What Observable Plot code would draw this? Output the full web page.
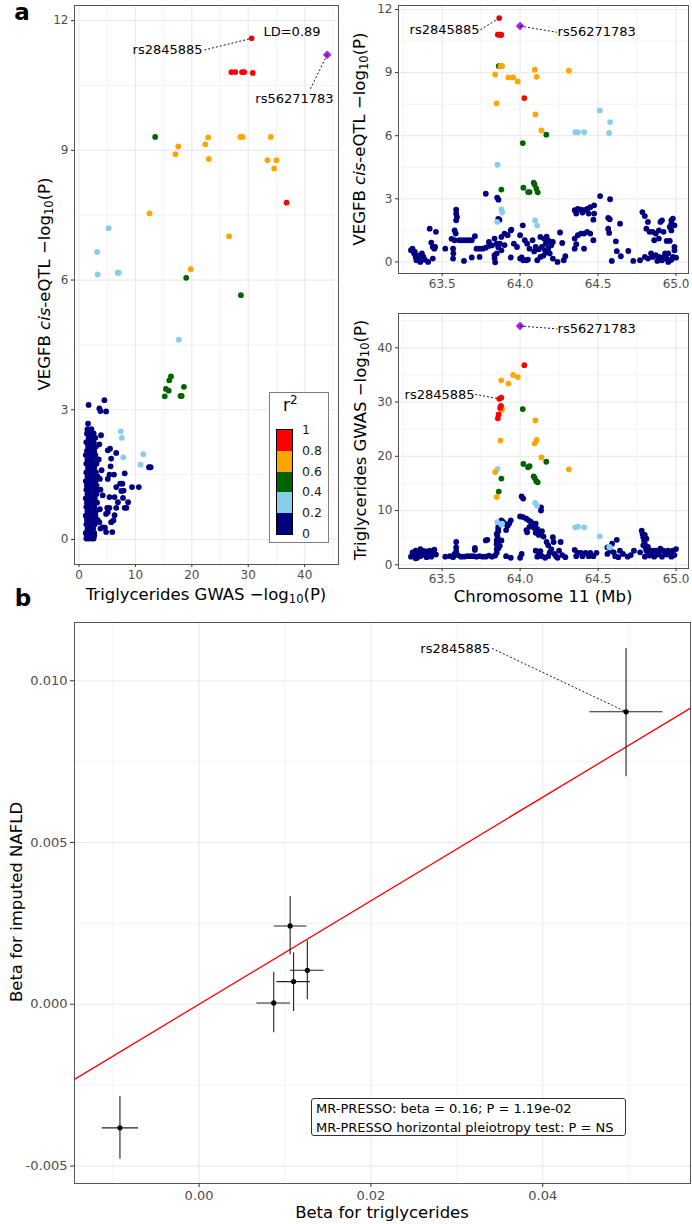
<!DOCTYPE html>
<html><head><meta charset="utf-8">
<script src="https://cdn.jsdelivr.net/npm/d3@7"></script>
<script src="https://cdn.jsdelivr.net/npm/@observablehq/plot@0.6"></script>
<style>
body{margin:0;background:#fff;font-family:"DejaVu Sans",sans-serif;}
#root{position:relative;width:692px;height:1224px;overflow:hidden;background:#fff;}
.lbl{position:absolute;white-space:nowrap;font-size:16.5px;color:#000;transform:translate(-50%,-50%);line-height:1;}
.rot{transform:translate(-50%,-50%) rotate(-90deg);}
.tag{position:absolute;font-weight:bold;font-size:23px;transform:translate(-50%,-50%);line-height:1;}
sub{font-size:0.7em;vertical-align:-0.3em;line-height:0;}
sup{font-size:0.7em;vertical-align:0.55em;line-height:0;}
</style></head><body><div id="root"></div>
<script>
// ---------- DATA ----------
const r2Breaks = ["1","0.8","0.6","0.4","0.2","0"];
const r2Colors = ["#FF0000","#FFA500","#006400","#87CEEB","#000080"];
const leadColor = "#A020F0";

// coloured SNPs: [position (Mb), VEGFB eQTL -log10P, TG GWAS -log10P]
const redSnps = [[63.866,11.59,30.6],[63.857,10.81,27.0],[63.862,10.81,27.7],[63.872,10.81,28.9],[63.877,10.81,29.3],[63.879,10.79,30.8],[64.027,7.79,36.8]];
const orangeSnps = [[63.840,8.91,17.1],[63.850,7.54,12.5],[63.879,9.31,34.0],[63.925,8.77,33.4],[63.955,8.77,35.0],[63.985,8.58,34.6],[63.880,9.31,29.0],[63.884,9.31,28.6],[64.098,7.01,26.6],[63.874,9.30,22.9],[64.106,8.80,23.0],[64.094,9.14,22.4],[64.137,6.25,19.8],[64.313,9.09,17.6]];
const greenSnps = [[63.863,9.31,13.5],[64.168,6.05,19.0],[64.017,5.65,28.7],[63.880,3.44,15.9],[64.021,3.53,18.6],[64.051,3.32,18.0],[64.061,3.32,18.2],[64.087,3.77,16.3],[64.093,3.68,16.0],[64.104,3.48,15.4],[64.113,3.31,15.2]];
const skySnps = [[63.855,4.62,17.7],[63.880,2.50,7.4],[63.885,2.35,7.6],[63.853,1.90,7.85],[64.096,1.97,11.4],[64.109,1.73,10.9],[64.511,7.20,5.25],[64.577,6.65,3.2],[64.571,6.13,3.3],[64.354,6.17,6.9],[64.371,6.17,7.05],[64.411,6.17,6.9]];
const leadSnp = [[64.000,11.21,44.0]];

// low-LD (navy) SNPs per panel
const navyLeft = [ // [TG GWAS, eQTL]
[1.6,2.68],[1.5,2.55],[2.2,2.55],[1.4,2.45],[1.9,2.45],[2.6,2.45],[1.7,2.35],[2.3,2.35],[2.9,2.35],
[1.3,2.25],[2.0,2.25],[2.6,2.25],[1.6,2.15],[2.4,2.15],[3.0,2.15],[1.4,2.05],[1.9,2.05],[2.7,2.05],
[1.2,1.95],[1.7,1.95],[2.2,1.95],[2.9,1.95],[1.5,1.85],[2.0,1.85],[2.5,1.85],
[1.3,1.75],[1.8,1.75],[2.4,1.75],[3.1,1.75],[1.6,1.65],[2.1,1.65],[2.7,1.65],
[1.3,1.55],[1.9,1.55],[2.4,1.55],[3.0,1.55],[1.5,1.45],[2.0,1.45],[2.6,1.45],[3.3,1.45],
[1.2,1.35],[1.7,1.35],[2.2,1.35],[2.9,1.35],[1.4,1.25],[1.9,1.25],[2.5,1.25],[3.1,1.25],
[1.3,1.15],[1.8,1.15],[2.3,1.15],[2.8,1.15],[3.4,1.15],[1.5,1.05],[2.0,1.05],[2.6,1.05],[3.1,1.05],
[1.2,0.95],[1.7,0.95],[2.2,0.95],[2.8,0.95],[1.4,0.85],[1.9,0.85],[2.5,0.85],[3.2,0.85],
[1.3,0.75],[1.6,0.75],[2.1,0.75],[2.7,0.75],[1.5,0.65],[2.0,0.65],[2.4,0.65],[3.0,0.65],
[1.2,0.55],[1.8,0.55],[2.3,0.55],[2.9,0.55],[1.4,0.45],[1.9,0.45],[2.6,0.45],[3.3,0.45],
[1.3,0.35],[1.7,0.35],[2.2,0.35],[2.8,0.35],[1.5,0.25],[2.0,0.25],[2.5,0.25],
[1.2,0.15],[1.6,0.15],[2.1,0.15],[2.7,0.15],[1.4,0.08],[1.9,0.08],[2.4,0.08],
[1.3,0.02],[1.7,0.02],[2.2,0.02],[2.6,0.02],
[1.7,3.11],[4.5,3.22],[3.6,3.03],[3.8,2.97],[4.8,2.96],[3.9,2.41],[5.1,2.06],[5.5,2.10],[6.6,2.00],
[5.7,1.87],[5.6,1.69],[5.4,1.50],[6.2,1.50],[5.1,1.40],[3.7,1.40],[8.1,1.53],[12.4,1.67],[12.7,1.67],
[7.3,1.29],[7.7,1.29],[6.6,1.21],[7.9,1.13],[7.5,1.12],[9.4,1.21],[10.6,1.21],[3.8,1.15],[4.2,1.02],
[6.3,0.98],[5.4,0.98],[6.9,0.86],[8.7,0.86],[7.8,0.96],[5.4,0.73],[6.6,0.73],[8.1,0.73],[8.4,0.73],
[5.0,0.73],[5.1,0.63],[6.3,0.56],[5.7,0.40],[4.8,0.59],[6.1,0.44],[4.2,0.28],[4.8,0.17],[5.9,0.17],
[4.6,0.27],[3.6,0.40],[3.8,0.25],[2.7,0.09],[3.5,1.85],[3.6,2.2],[4.0,1.6],[3.7,0.7]
];
const navyTop = [ // [position, eQTL]
[63.30,0.56],[63.31,0.63],[63.32,0.40],[63.33,0.24],[63.335,0.08],[63.345,0.15],[63.36,0.0],[63.37,0.40],[63.38,0.24],[63.325,0.48],[63.35,0.30],[63.39,0.10],
[63.42,1.58],[63.46,1.43],[63.44,0.71],[63.45,0.63],[63.43,0.92],[63.455,0.71],[63.41,0.0],[63.44,0.16],[63.52,0.63],
[63.59,2.48],[63.59,2.30],[63.595,2.14],[63.59,1.98],[63.58,1.50],[63.587,1.35],[63.58,1.03],[63.57,0.63],[63.572,0.40],[63.57,0.16],[63.56,1.10],
[63.61,1.03],[63.63,1.03],[63.65,1.03],[63.67,1.03],[63.69,1.03],[63.71,1.22],[63.64,0.05],[63.69,0.21],[63.74,0.24],
[63.72,0.63],[63.74,0.63],[63.76,0.63],[63.78,0.68],[63.80,0.76],[63.82,0.79],[63.85,0.87],
[63.78,3.24],[63.853,3.06],[63.861,2.96],[63.86,2.05],[63.868,2.0],
[63.80,0.95],[63.836,1.11],[63.88,1.19],[63.90,1.35],[63.92,1.27],[63.94,1.50],[63.944,1.54],
[63.836,0.32],[63.836,0.17],[63.86,0.70],[63.88,0.55],[63.90,0.80],[63.85,0.40],[63.84,-0.02],[63.87,0.87],
[63.94,0.21],[63.96,0.87],[63.98,0.71],
[64.0,0.16],[64.02,0.08],[64.04,0.08],[64.017,1.74],[64.0,1.27],[64.03,1.03],[64.045,0.87],[64.06,0.63],[64.08,1.03],[64.10,0.71],[64.11,0.08],[64.01,0.21],[64.05,0.11],
[64.13,0.24],[64.14,0.71],[64.155,1.10],[64.165,0.87],[64.18,0.63],[64.19,0.40],[64.20,0.79],[64.21,0.95],[64.21,0.16],[64.13,1.19],[64.16,0.55],[64.17,1.20],[64.185,1.0],[64.15,0.30],[64.17,0.45],[64.12,0.60],[64.09,0.50],
[64.256,1.40],[64.27,0.90],[64.29,0.27],[64.28,0.08],[64.24,0.0],
[64.35,2.46],[64.37,2.52],[64.39,2.48],[64.41,2.46],[64.43,2.52],[64.45,2.60],[64.475,2.69],[64.475,2.30],[64.36,2.30],[64.44,2.30],[64.40,2.35],[64.47,2.01],
[64.35,1.11],[64.37,1.27],[64.39,1.35],[64.41,1.35],[64.43,1.43],[64.45,1.35],[64.47,1.03],[64.36,0.84],[64.35,0.63],[64.41,0.63],
[64.513,3.13],[64.577,2.98],[64.565,2.09],[64.575,2.03],[64.565,1.58],[64.571,1.38],[64.614,0.98],[64.62,0.51],[64.641,1.82],
[64.646,0.27],[64.588,0.05],[64.694,0.52],[64.726,0.05],[64.769,0.08],
[64.784,2.37],[64.80,2.18],[64.82,1.90],[64.81,1.58],[64.83,1.43],[64.85,1.43],[64.87,1.35],[64.89,1.50],[64.90,1.90],[64.91,1.98],[64.92,1.43],[64.89,1.11],[64.86,1.03],
[64.80,0.24],[64.82,0.16],[64.84,0.40],[64.85,0.24],[64.87,0.32],[64.89,0.24],[64.91,0.08],[64.92,0.24],[64.94,0.16],[64.96,0.08],[64.98,0.24],[64.95,0.0],[64.97,0.10],[65.0,0.20],[64.88,0.05],[64.93,0.40],
[64.97,1.98],[64.98,2.06],[64.97,1.82],[64.96,1.66],[64.97,1.50],[64.99,1.74],[64.99,0.71],[64.99,0.55],[64.95,0.40],[64.94,1.0],[64.96,1.0]
];
const navyBottom = [ // [position, TG GWAS]
[63.30,1.5],[63.31,2.3],[63.32,1.8],[63.33,2.6],[63.34,1.3],[63.35,2.2],[63.36,1.6],[63.37,2.6],[63.38,1.9],[63.39,2.5],[63.40,1.4],[63.33,1.2],[63.36,2.9],
[63.41,2.0],[63.42,2.6],[63.43,1.5],[63.44,2.4],[63.45,2.8],[63.46,1.9],
[63.52,1.5],[63.55,1.6],[63.57,1.4],[63.58,2.0],[63.59,4.2],[63.59,3.2],[63.59,2.5],[63.60,1.8],[63.62,1.5],[63.64,1.5],[63.66,1.6],[63.68,1.6],[63.70,1.6],[63.71,2.75],[63.71,3.1],
[63.72,1.5],[63.74,1.6],[63.76,1.5],[63.78,1.5],[63.78,4.5],[63.80,1.7],[63.82,1.5],[63.84,1.7],[63.85,2.2],[63.79,4.6],[63.85,3.9],
[63.85,2.9],[63.85,3.8],[63.85,4.5],[63.855,5.2],[63.85,5.7],[63.86,6.2],[63.86,6.6],[63.86,7.0],[63.87,7.6],[63.88,8.2],[63.89,7.9],[63.90,7.6],[63.92,7.2],[63.93,7.6],[63.94,8.2],[63.91,6.4],[63.88,4.5],[63.87,3.5],[63.86,3.0],
[63.94,1.3],[63.91,1.6],[64.0,1.3],[64.01,2.0],[64.01,12.6],[64.02,12.2],
[64.0,8.9],[64.02,8.8],[64.04,8.5],[64.055,8.2],[64.07,7.9],[64.08,7.3],[64.10,7.6],[64.11,6.6],[64.134,10.6],[64.134,10.0],[64.045,6.0],[64.04,6.4],[64.13,5.7],[64.14,6.2],[64.12,5.5],[64.15,5.2],[64.10,5.9],[64.06,7.0],[64.09,6.8],
[64.17,4.2],[64.18,3.6],[64.20,2.9],[64.21,5.1],[64.215,4.2],[64.25,2.6],[64.26,4.2],[64.22,2.0],[64.29,1.4],[64.18,1.6],[64.14,1.6],[64.16,1.3],[64.12,2.0],[64.10,2.6],[64.11,1.5],[64.13,2.5],[64.19,2.3],[64.23,1.6],[64.24,1.3],[64.27,1.8],
[64.35,2.75],[64.37,2.2],[64.39,2.2],[64.42,2.2],[64.45,2.2],[64.49,2.2],[64.36,1.6],[64.40,1.6],[64.44,1.6],[64.47,1.6],
[64.62,4.6],[64.59,3.9],[64.56,3.2],[64.58,2.6],[64.60,2.3],[64.64,2.6],[64.66,2.0],[64.69,1.5],[64.73,2.6],[64.56,2.0],[64.61,1.6],[64.63,1.4],[64.71,1.8],
[64.78,6.3],[64.785,5.7],[64.79,5.1],[64.795,4.5],[64.80,3.9],[64.805,3.2],[64.81,2.6],[64.82,2.3],[64.83,2.6],[64.85,2.6],[64.87,2.6],[64.89,2.3],[64.92,2.6],[64.95,2.6],[64.98,2.6],[65.0,2.9],
[64.77,2.3],[64.80,1.5],[64.83,1.7],[64.86,1.5],[64.88,1.9],[64.91,1.5],[64.94,1.9],[64.97,1.5],[64.99,1.8],[64.80,5.5],[64.81,4.8],[64.79,3.6],[64.82,3.3],[64.84,2.0],[64.90,3.0],[64.93,2.2],[64.96,2.0]
];

// panel b: MR instruments
const betaTG      = [-0.00921, 0.00869, 0.0106, 0.0110, 0.0126, 0.0497];
const betaTGlo    = [-0.01127, 0.00673, 0.00874, 0.00905, 0.01064, 0.0455];
const betaTGhi    = [-0.00705, 0.01064, 0.01255, 0.01296, 0.01455, 0.0540];
const betaNAFLD   = [-0.00382, 0.00004, 0.00242, 0.0007, 0.00105, 0.00904];
const betaNAFLDlo = [-0.00479, -0.00088, 0.00153, -0.00022, 0.00014, 0.00703];
const betaNAFLDhi = [-0.00285, 0.00099, 0.00333, 0.00159, 0.00196, 0.0110];
const mrBeta = 0.16;
const mrText = ["MR-PRESSO: beta = 0.16; P = 1.19e-02", "MR-PRESSO horizontal pleiotropy test: P = NS"];

// ---------- BUILD ----------
const root = document.getElementById("root");
const toRows = (arr) => arr.map(d => ({pos:d[0], eqtl:d[1], gwas:d[2]}));
const classes = [
  {rows: toRows(skySnps), color: r2Colors[3]},
  {rows: toRows(greenSnps), color: r2Colors[2]},
  {rows: toRows(orangeSnps), color: r2Colors[1]},
  {rows: toRows(redSnps), color: r2Colors[0]}
];
const lead = toRows(leadSnp);
const R = 2.9;

function snpMarks(navy, xk, yk) {
  const m = [Plot.dot(navy, {x: d => d[0], y: d => d[1], r: R, fill: r2Colors[4]})];
  for (const c of classes) m.push(Plot.dot(c.rows, {x: xk, y: yk, r: R, fill: c.color}));
  m.push(Plot.dot(lead, {x: xk, y: yk, r: 3.6, symbol: "diamond2", fill: leadColor, stroke: leadColor, strokeWidth: 0.6}));
  return m;
}
const dotted = (rows) => Plot.link(rows, {x1:"x1", y1:"y1", x2:"x2", y2:"y2", stroke:"#000", strokeWidth:0.9, strokeDasharray:"2,2"});
const label = (rows, anchor, fs=13) => Plot.text(rows, {x:"x", y:"y", text:"t", textAnchor: anchor, fontSize: fs, fill:"#000"});

function basePlot(o) {
  return Plot.plot({
    width:o.w, height:o.h, marginTop:o.mt, marginRight:o.mr, marginBottom:o.mb, marginLeft:o.ml,
    x:{domain:o.xd}, y:{domain:o.yd},
    style:{fontFamily:"'DejaVu Sans', sans-serif", fontSize:o.fs+"px", background:"transparent", overflow:"visible"},
    marks:[
      Plot.gridX(o.xm,{stroke:"#ebebeb",strokeOpacity:1,strokeWidth:0.6}),
      Plot.gridY(o.ym,{stroke:"#ebebeb",strokeOpacity:1,strokeWidth:0.6}),
      Plot.gridX(o.xt,{stroke:"#ebebeb",strokeOpacity:1,strokeWidth:1.2}),
      Plot.gridY(o.yt,{stroke:"#ebebeb",strokeOpacity:1,strokeWidth:1.2}),
      ...o.marks,
      Plot.frame({stroke:"#555",strokeWidth:1}),
      Plot.axisX(o.xt,{tickSize:o.ts||3,tickPadding:3,tickFormat:o.xf,label:null,fill:"#4d4d4d",stroke:"#333"}),
      Plot.axisY(o.yt,{tickSize:o.ts||3,tickPadding:3,tickFormat:o.yf,label:null,fill:"#4d4d4d",stroke:"#333"})
    ]
  });
}
function place(node, left, top) {
  node.style.position = "absolute"; node.style.left = left + "px"; node.style.top = top + "px";
  root.appendChild(node);
}
function html(cls, inner, x, y) {
  const d = document.createElement("div"); d.className = cls; d.innerHTML = inner;
  d.style.left = x + "px"; d.style.top = y + "px"; root.appendChild(d); return d;
}
const intF = d => String(d);
const f1 = d => d.toFixed(1);

// Panel a, left: GWAS vs eQTL
const left = basePlot({
  w:345, h:600, mt:5, mr:7, mb:36, ml:74, fs:12,
  xd:[-0.8,46.0], yd:[-0.58,12.35],
  xt:[0,10,20,30,40], xm:[5,15,25,35,45], yt:[0,3,6,9,12], ym:[1.5,4.5,7.5,10.5],
  xf:intF, yf:intF,
  marks:[
    ...snpMarks(navyLeft, "gwas", "eqtl"),
    dotted([{x1:22.2,y1:11.32,x2:30.6,y2:11.59},{x1:44.0,y1:11.21,x2:41.0,y2:10.42}]),
    label([{x:21.9,y:11.32,t:"rs2845885"}], "end"),
    label([{x:32.7,y:11.74,t:"LD=0.89"}], "start"),
    label([{x:38.2,y:10.19,t:"rs56271783"}], "middle")
  ]
});
place(left, 0, 0);

// Panel a, top right: position vs eQTL
const tr = basePlot({
  w:347, h:300, mt:5, mr:4, mb:27, ml:53, fs:12,
  xd:[63.22,65.08], yd:[-0.55,12.19],
  xt:[63.5,64.0,64.5,65.0], xm:[63.25,63.75,64.25,64.75], yt:[0,3,6,9,12], ym:[1.5,4.5,7.5,10.5],
  xf:f1, yf:intF,
  marks:[
    ...snpMarks(navyTop, "pos", "eqtl"),
    dotted([{x1:63.745,y1:11.04,x2:63.866,y2:11.59},{x1:64.0,y1:11.21,x2:64.236,y2:10.92}]),
    label([{x:63.740,y:11.04,t:"rs2845885"}], "end"),
    label([{x:64.240,y:10.92,t:"rs56271783"}], "start")
  ]
});
place(tr, 345, 0);

// Panel a, bottom right: position vs GWAS
const br = basePlot({
  w:347, h:310, mt:13, mr:4, mb:42, ml:53, fs:12,
  xd:[63.22,65.08], yd:[-0.68,46.32],
  xt:[63.5,64.0,64.5,65.0], xm:[63.25,63.75,64.25,64.75], yt:[0,10,20,30,40], ym:[5,15,25,35,45],
  xf:f1, yf:intF,
  marks:[
    ...snpMarks(navyBottom, "pos", "gwas"),
    dotted([{x1:64.0,y1:44.0,x2:64.236,y2:43.5},{x1:63.712,y1:31.4,x2:63.866,y2:30.6}]),
    label([{x:64.240,y:43.5,t:"rs56271783"}], "start"),
    label([{x:63.708,y:31.4,t:"rs2845885"}], "end")
  ]
});
place(br, 345, 300);

// Panel b
const mrRows = betaTG.map((x,i) => ({x, xlo:betaTGlo[i], xhi:betaTGhi[i], y:betaNAFLD[i], ylo:betaNAFLDlo[i], yhi:betaNAFLDhi[i]}));
const bxd = [-0.0145, 0.0572];
const lineRows = bxd.map(x => ({x, y: mrBeta * x}));
const pb = basePlot({
  w:692, h:614, mt:12, mr:2, mb:41, ml:74, fs:13, ts:4,
  xd:bxd, yd:[-0.00554,0.0118],
  xt:[0,0.02,0.04], xm:[-0.01,0.01,0.03,0.05], yt:[-0.005,0,0.005,0.010], ym:[-0.0025,0.0025,0.0075],
  xf:d => d.toFixed(2), yf:d => d.toFixed(3),
  marks:[
    Plot.line(lineRows, {x:"x", y:"y", stroke:"#FF0000", strokeWidth:1.3}),
    Plot.ruleY(mrRows, {y:"y", x1:"xlo", x2:"xhi", stroke:"#222", strokeWidth:1.1}),
    Plot.ruleX(mrRows, {x:"x", y1:"ylo", y2:"yhi", stroke:"#222", strokeWidth:1.1}),
    Plot.dot(mrRows, {x:"x", y:"y", r:2.6, fill:"#000"}),
    dotted([{x1:0.0341,y1:0.0110,x2:0.0497,y2:0.00904}]),
    label([{x:0.0339,y:0.0110,t:"rs2845885"}], "end")
  ]
});
place(pb, 0, 610);

// ---------- HTML text & legend ----------
html("tag", "a", 22, 12);
html("tag", "b", 23, 598);
html("lbl rot", "VEGFB <i>cis</i>-eQTL −log<sub>10</sub>(P)", 45, 284);
html("lbl", "Triglycerides GWAS  −log<sub>10</sub>(P)", 206, 595);
html("lbl rot", "VEGFB <i>cis</i>-eQTL −log<sub>10</sub>(P)", 360, 139);
html("lbl rot", "Triglycerides GWAS  −log<sub>10</sub>(P)", 361, 440);
html("lbl", "Chromosome 11 (Mb)", 543, 597);
html("lbl rot", "Beta for imputed NAFLD", 17, 902);
html("lbl", "Beta for triglycerides", 382, 1213);

// legend
const lg = document.createElement("div");
lg.style.cssText = "position:absolute;left:269px;top:392px;width:58px;height:149px;border:1px solid #7f7f7f;background:#fff;";
root.appendChild(lg);
const lt = document.createElement("div");
lt.innerHTML = "r<sup>2</sup>";
lt.style.cssText = "position:absolute;left:13px;top:4px;font-size:17px;line-height:1;";
lg.appendChild(lt);
const bar = document.createElement("div");
bar.style.cssText = "position:absolute;left:6px;top:36px;width:17px;height:106px;border:1px solid #000;box-sizing:border-box;";
lg.appendChild(bar);
r2Colors.forEach((c,i) => {
  const b = document.createElement("div");
  b.style.cssText = `position:absolute;left:0;right:0;top:${i*20.8}px;height:20.8px;background:${c};`;
  bar.appendChild(b);
});
r2Breaks.forEach((t,i) => {
  const s = document.createElement("div");
  s.textContent = t;
  s.style.cssText = `position:absolute;left:32px;top:${37 + i*20.8}px;transform:translateY(-50%);font-size:12.5px;line-height:1;color:#1a1a1a;`;
  lg.appendChild(s);
});

// MR-PRESSO box
const box = document.createElement("div");
box.style.cssText = "position:absolute;left:311px;top:1098px;width:309px;height:36px;border:1px solid #333;border-radius:3px;background:#fff;padding:0 0 0 4px;font-size:13px;line-height:19px;white-space:nowrap;";
box.innerHTML = mrText.join("<br>");
root.appendChild(box);
</script>
</body></html>
